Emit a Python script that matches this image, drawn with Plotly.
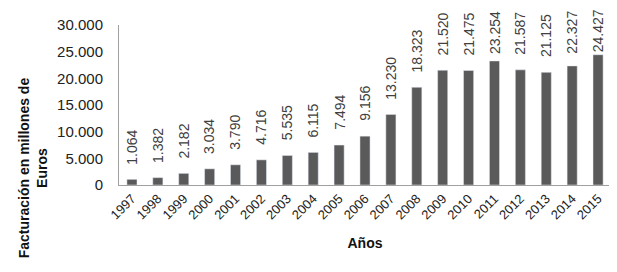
import plotly.graph_objects as go

years = [str(y) for y in range(1997, 2016)]
values = [1064, 1382, 2182, 3034, 3790, 4716, 5535, 6115, 7494, 9156,
          13230, 18323, 21520, 21475, 23254, 21587, 21125, 22327, 24427]

Y_MAX = 30000
FIG_W, FIG_H = 609, 264
M_L, M_R, M_T, M_B = 111, 6, 17, 87
PLOT_H = FIG_H - M_T - M_B
LABEL_LEN = 44     # approx. pixel length of a rotated value label
GAP = 13           # preferred gap between bar top and label


def fmt(v):
    return f"{v:,d}".replace(",", ".")


fig = go.Figure(go.Bar(
    x=years, y=values,
    marker_color="#5a5a5a",
))

# value labels above each bar (category index i matches the bar order);
# like the original, a label is pulled down so it stays inside the chart
for i, v in enumerate(values):
    bar_top_from_plot_top = PLOT_H * (1 - v / Y_MAX)
    room = bar_top_from_plot_top + M_T - 4 - LABEL_LEN
    shift = max(0, min(GAP, room))
    fig.add_annotation(
        x=i, y=v, text=fmt(v), textangle=-90,
        xanchor="center", yanchor="bottom", yshift=shift,
        showarrow=False,
        font=dict(family="Arial, Liberation Sans", size=14, color="#404040"),
    )

# y-axis title (placed lower than centre, as in the original)
fig.add_annotation(
    xref="paper", yref="paper", x=-0.175, y=0.11,
    xanchor="center", yanchor="middle", textangle=-90, showarrow=False,
    text="<b>Facturación en millones de<br>Euros</b>",
    font=dict(family="Arial, Liberation Sans", size=14, color="#111"),
)

fig.update_layout(
    width=FIG_W, height=FIG_H,
    margin=dict(l=M_L, r=M_R, t=M_T, b=M_B),
    paper_bgcolor="white", plot_bgcolor="white",
    separators=",.",
    bargap=0.61,
    showlegend=False,
    font=dict(family="Arial, Liberation Sans", color="#222"),
)
fig.update_yaxes(
    range=[0, Y_MAX], dtick=5000, tickformat=",d",
    showgrid=False, zeroline=False, automargin=False,
    showline=True, linecolor="#a0a0a0", linewidth=1,
    ticks="outside", ticklen=12, tickcolor="rgba(0,0,0,0)",
    tickfont=dict(size=15, color="#222"),
)
fig.update_xaxes(
    type="category",
    showgrid=False, showline=True, linecolor="#a0a0a0", linewidth=1,
    automargin=False,
    ticks="", tickangle=-45, tickfont=dict(size=13, color="#222"),
    title=dict(text="<b>Años</b>", font=dict(size=14, color="#111"), standoff=16),
)

fig.write_html("out.html")
